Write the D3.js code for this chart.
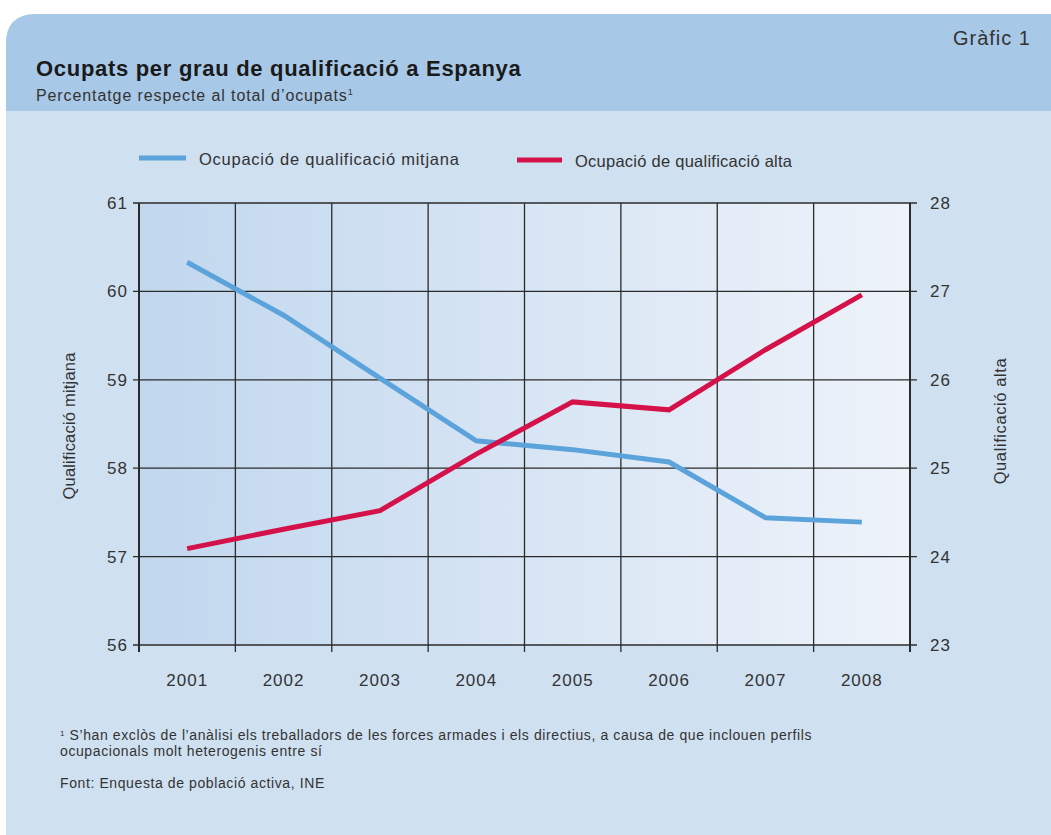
<html>
<style>
body { margin: 0; background: #fff; }
text { font-family: "Liberation Sans", Arial, sans-serif; fill: #333; }
</style>
<body>
<script src="https://d3js.org/d3.v7.min.js"></script>
<script>

var years = ["2001", "2002", "2003", "2004", "2005", "2006", "2007", "2008"];
var mitjana = [60.33, 59.73, 59.02, 58.31, 58.21, 58.07, 57.44, 57.39];
var alta = [24.09, 24.31, 24.52, 25.16, 25.75, 25.66, 26.34, 26.96];
var leftTicks = [56, 57, 58, 59, 60, 61];
var rightTicks = [23, 24, 25, 26, 27, 28];

var width = 1051,
    height = 835,
    plotL = 139, plotR = 910, plotT = 203, plotB = 645;

var svg = d3.select("body").append("svg")
    .attr("width", width)
    .attr("height", height);

var defs = svg.append("defs");
var grad = defs.append("linearGradient").attr("id", "bg")
    .attr("x1", "0%").attr("x2", "100%").attr("y1", "0%").attr("y2", "0%");
grad.append("stop").attr("offset", "0%").attr("stop-color", "#c1d7ee");
grad.append("stop").attr("offset", "100%").attr("stop-color", "#eef3fa");

// card
svg.append("path")
    .attr("d", "M6,835 L6,44 Q6,14 36,14 L1051,14 L1051,835 Z")
    .attr("fill", "#cfe0f1");
svg.append("path")
    .attr("d", "M6,111 L6,44 Q6,14 36,14 L1051,14 L1051,111 Z")
    .attr("fill", "#a8c8e7");

svg.append("text").attr("x", 1031).attr("y", 45)
    .attr("text-anchor", "end").style("font-size", "20px").style("letter-spacing", "1px").text("Gràfic 1");
svg.append("text").attr("x", 36).attr("y", 76)
    .style("font-size", "22px").style("font-weight", "bold").style("fill", "#1a1a1a")
    .style("letter-spacing", "0.7px")
    .text("Ocupats per grau de qualificació a Espanya");
var sub = svg.append("text").attr("x", 36).attr("y", 101).style("font-size", "16px")
    .style("letter-spacing", "0.9px");
sub.append("tspan").text("Percentatge respecte al total d’ocupats");
sub.append("tspan").attr("dy", -6).style("font-size", "9px").style("letter-spacing", "0").text("1");

var x = d3.scaleBand().domain(years).range([plotL, plotR]);
var yL = d3.scaleLinear().domain([56, 61]).range([plotB, plotT]);
var yR = d3.scaleLinear().domain([23, 28]).range([plotB, plotT]);

svg.append("rect").attr("x", plotL).attr("y", plotT)
    .attr("width", plotR - plotL).attr("height", plotB - plotT)
    .attr("fill", "url(#bg)");

// grid
var g = svg.append("g");
g.selectAll(".hl").data(leftTicks).enter().append("line")
    .attr("x1", plotL - 6).attr("x2", plotR + 7)
    .attr("y1", d => yL(d)).attr("y2", d => yL(d))
    .attr("stroke", "#2b2b2b").attr("stroke-width", 1.3);
var edges = years.map(d => x(d)).concat([plotR]);
g.selectAll(".vl").data(edges).enter().append("line")
    .attr("x1", d => d).attr("x2", d => d)
    .attr("y1", plotT).attr("y2", plotB + 7)
    .attr("stroke", "#2b2b2b").attr("stroke-width", (d, i) => (i == 0 || i == edges.length - 1) ? 2 : 1.3);

// axis labels
svg.selectAll(".lt").data(leftTicks).enter().append("text")
    .attr("x", 128).attr("y", d => yL(d) + 6)
    .attr("text-anchor", "end").style("font-size", "17px").style("letter-spacing", "1px").text(d => d);
svg.selectAll(".rt").data(rightTicks).enter().append("text")
    .attr("x", 930).attr("y", d => yR(d) + 6)
    .style("font-size", "17px").style("letter-spacing", "1px").text(d => d);
svg.selectAll(".xt").data(years).enter().append("text")
    .attr("x", d => x(d) + x.bandwidth() / 2).attr("y", 686)
    .attr("text-anchor", "middle").style("font-size", "17px").style("letter-spacing", "1px").text(d => d);

svg.append("text").attr("transform", "translate(75,426) rotate(-90)")
    .attr("text-anchor", "middle").style("font-size", "16.5px").style("letter-spacing", "0.2px")
    .text("Qualificació mitjana");
svg.append("text").attr("transform", "translate(1006,421) rotate(-90)")
    .attr("text-anchor", "middle").style("font-size", "16.5px").style("letter-spacing", "0.6px")
    .text("Qualificació alta");

// lines
var cx = d => x(d) + x.bandwidth() / 2;
var lineL = d3.line().x((d, i) => cx(years[i])).y(d => yL(d));
var lineR = d3.line().x((d, i) => cx(years[i])).y(d => yR(d));
svg.append("path").attr("d", lineL(mitjana)).attr("fill", "none")
    .attr("stroke", "#5ba3da").attr("stroke-width", 5);
svg.append("path").attr("d", lineR(alta)).attr("fill", "none")
    .attr("stroke", "#d5114a").attr("stroke-width", 5);

// legend
svg.append("line").attr("x1", 139).attr("x2", 186).attr("y1", 158).attr("y2", 158)
    .attr("stroke", "#5ba3da").attr("stroke-width", 5);
svg.append("text").attr("x", 199).attr("y", 165).style("font-size", "16.5px").style("letter-spacing", "0.75px")
    .text("Ocupació de qualificació mitjana");
svg.append("line").attr("x1", 517).attr("x2", 562).attr("y1", 160).attr("y2", 160)
    .attr("stroke", "#d5114a").attr("stroke-width", 5);
svg.append("text").attr("x", 575).attr("y", 167).style("font-size", "16.5px").style("letter-spacing", "0.25px")
    .text("Ocupació de qualificació alta");

// notes
var fn = svg.append("text").attr("x", 60).attr("y", 740).style("font-size", "14px").style("letter-spacing", "0.6px");
fn.append("tspan").attr("dy", -4).style("font-size", "8px").text("1");
fn.append("tspan").attr("dy", 4).text(" S’han exclòs de l’anàlisi els treballadors de les forces armades i els directius, a causa de que inclouen perfils");
svg.append("text").attr("x", 60).attr("y", 756).style("font-size", "14px").style("letter-spacing", "0.6px")
    .text("ocupacionals molt heterogenis entre sí");
svg.append("text").attr("x", 60).attr("y", 788).style("font-size", "14px").style("letter-spacing", "0.6px")
    .text("Font: Enquesta de població activa, INE");

</script>
</body>
</html>
